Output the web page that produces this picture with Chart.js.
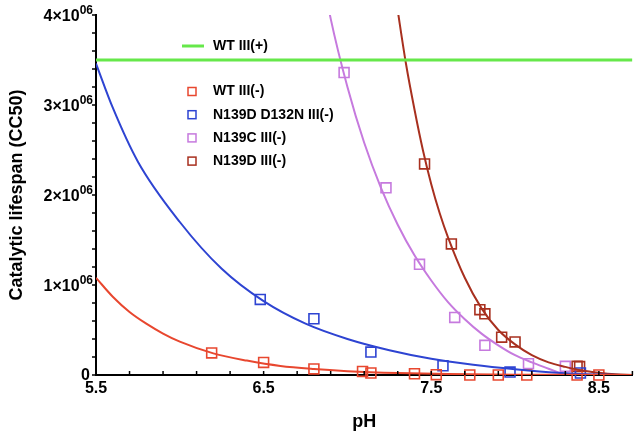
<!DOCTYPE html>
<html>
<head>
<meta charset="utf-8">
<title>Catalytic lifespan vs pH</title>
<script src="https://cdn.jsdelivr.net/npm/chart.js@4.4.1/dist/chart.umd.min.js"></script>
<style>
  html, body { margin: 0; padding: 0; background: #fff; }
  #wrap { width: 641px; height: 439px; }
</style>
</head>
<body>
<div id="wrap"><canvas id="lifespanChart" width="641" height="439"></canvas></div>
<script>
// measured points (pH, CC50)
const wtMinusPH  = [6.19, 6.50, 6.80, 7.09, 7.14, 7.40, 7.53, 7.73, 7.90, 8.07, 8.37, 8.50];
const wtMinusVal = [0.245e6, 0.14e6, 0.067e6, 0.04e6, 0.022e6, 0.014e6, 0.004e6, 0, 0, 0, 0, 0];

const dblMutPH  = [6.48, 6.80, 7.14, 7.57, 7.97, 8.39];
const dblMutVal = [0.84e6, 0.625e6, 0.255e6, 0.103e6, 0.033e6, 0.022e6];

const n139cPH  = [6.98, 7.23, 7.43, 7.64, 7.82, 8.08, 8.30];
const n139cVal = [3.36e6, 2.08e6, 1.23e6, 0.64e6, 0.33e6, 0.126e6, 0.096e6];

const n139dPH  = [7.46, 7.62, 7.79, 7.82, 7.92, 8.00, 8.37, 8.385];
const n139dVal = [2.345e6, 1.456e6, 0.726e6, 0.68e6, 0.42e6, 0.367e6, 0.096e6, 0.094e6];

// fitted curves
const wtFitPH  = [5.5, 5.6, 5.7, 5.8, 5.9, 6.0, 6.2, 6.4, 6.6, 6.8, 7.0, 7.3, 7.6, 8.0, 8.4, 8.7];
const wtFitVal = [1.08e6, 0.87e6, 0.70e6, 0.57e6, 0.46e6, 0.37e6, 0.24e6, 0.16e6, 0.10e6, 0.066e6, 0.043e6, 0.022e6, 0.011e6, 0.004e6, 0.002e6, 0];

const dblFitPH  = [5.5, 5.6, 5.75, 6.0, 6.25, 6.5, 6.75, 7.0, 7.25, 7.5, 7.75, 8.0, 8.25, 8.5, 8.7];
const dblFitVal = [3.46e6, 2.97e6, 2.37e6, 1.70e6, 1.18e6, 0.82e6, 0.57e6, 0.40e6, 0.275e6, 0.18e6, 0.115e6, 0.065e6, 0.025e6, 0.005e6, 0];

const n139cFitPH  = [6.85, 6.9, 7.0, 7.1, 7.2, 7.3, 7.4, 7.5, 7.6, 7.7, 7.8, 7.9, 8.0, 8.1, 8.2, 8.3];
const n139cFitVal = [4.45e6, 3.96e6, 3.2e6, 2.58e6, 2.08e6, 1.67e6, 1.33e6, 1.05e6, 0.81e6, 0.62e6, 0.46e6, 0.33e6, 0.22e6, 0.14e6, 0.07e6, 0];

const n139dFitPH  = [7.28, 7.3, 7.35, 7.4, 7.45, 7.5, 7.55, 7.6, 7.7, 7.8, 7.9, 8.0, 8.1, 8.2, 8.3, 8.4, 8.5, 8.6, 8.7];
const n139dFitVal = [4.3e6, 4.05e6, 3.45e6, 2.95e6, 2.5e6, 2.12e6, 1.8e6, 1.53e6, 1.08e6, 0.74e6, 0.5e6, 0.34e6, 0.22e6, 0.14e6, 0.09e6, 0.05e6, 0.025e6, 0.008e6, 0];

const wtPlusPH  = [5.5, 8.7];
const wtPlusVal = [3.5e6, 3.5e6];

const xTickLabels = [5.5, 6.5, 7.5, 8.5];
const yTickValues = [0, 1e6, 2e6, 3e6, 4e6];
const yTickLabels = ['0', '1×10^06', '2×10^06', '3×10^06', '4×10^06'];

const FONT = "'Liberation Sans', Arial, Helvetica, sans-serif";
const RED = '#e8472f', BLUE = '#2e44d2', LILAC = '#c67ade', BROWN = '#a8301f', GREEN = '#66e84a';

function pts(xs, ys) {
    return xs.map((x, i) => ({ x: x, y: ys[i] }));
}

function fitLine(xs, ys, color) {
    return {
        data: pts(xs, ys),
        borderColor: color,
        borderWidth: 2,
        pointRadius: 0,
        cubicInterpolationMode: 'monotone',
        fill: false
    };
}

function markers(label, xs, ys, color) {
    return {
        label: label,
        data: pts(xs, ys),
        showLine: false,
        pointStyle: 'rect',
        pointRadius: 7,
        pointBorderWidth: 1.6,
        pointBorderColor: color,
        pointBackgroundColor: 'rgba(0,0,0,0)',
        borderColor: color,
        clip: false,
        legendBox: true
    };
}

// tick marks, y labels with exponent, and the legend
const decor = {
    id: 'decor',
    afterDraw(chart) {
        const { ctx, scales: { x, y } } = chart;
        ctx.save();
        ctx.strokeStyle = '#000';
        ctx.lineWidth = 1.5;
        for (let k = 0; k <= 20; k++) {
            const py = y.getPixelForValue(k * 2e5);
            ctx.beginPath(); ctx.moveTo(x.left - 4, py); ctx.lineTo(x.left, py); ctx.stroke();
        }
        for (let k = 0; k <= 16; k++) {
            const px = x.getPixelForValue(5.5 + k * 0.2);
            ctx.beginPath(); ctx.moveTo(px, y.bottom); ctx.lineTo(px, y.bottom - 4); ctx.stroke();
        }

        ctx.fillStyle = '#000';
        ctx.textBaseline = 'middle';
        yTickValues.forEach((v, i) => {
            const py = y.getPixelForValue(v);
            const parts = yTickLabels[i].split('^');
            if (parts.length === 1) {
                ctx.font = 'bold 16px ' + FONT;
                ctx.textAlign = 'right';
                ctx.fillText(parts[0], 90, py + 1);
                return;
            }
            ctx.font = 'bold 12px ' + FONT;
            const supW = ctx.measureText(parts[1]).width;
            ctx.textAlign = 'left';
            ctx.fillText(parts[1], 93 - supW, py - 4);
            ctx.font = 'bold 16px ' + FONT;
            ctx.textAlign = 'right';
            ctx.fillText(parts[0], 93 - supW, py + 2);
        });

        // legend
        ctx.textAlign = 'left';
        ctx.font = 'bold 14px ' + FONT;
        ctx.strokeStyle = GREEN;
        ctx.lineWidth = 3;
        ctx.beginPath(); ctx.moveTo(182, 46); ctx.lineTo(204, 46); ctx.stroke();
        ctx.fillText('WT III(+)', 213, 46);
        const boxed = chart.data.datasets.filter(d => d.legendBox);
        boxed.forEach((d, i) => {
            const cy = 91.5 + i * 23.2;
            ctx.strokeStyle = d.pointBorderColor;
            ctx.lineWidth = 1.5;
            ctx.strokeRect(188, cy - 4, 8, 8);
            ctx.fillStyle = '#000';
            ctx.fillText(d.label, 213, cy);
        });
        ctx.restore();
    }
};

new Chart(document.getElementById('lifespanChart'), {
    type: 'line',
    data: {
        datasets: [
            { label: 'WT III(+)', data: pts(wtPlusPH, wtPlusVal), borderColor: GREEN, borderWidth: 3, pointRadius: 0 },
            fitLine(wtFitPH, wtFitVal, RED),
            fitLine(dblFitPH, dblFitVal, BLUE),
            fitLine(n139cFitPH, n139cFitVal, LILAC),
            fitLine(n139dFitPH, n139dFitVal, BROWN),
            markers('WT III(-)', wtMinusPH, wtMinusVal, RED),
            markers('N139D D132N III(-)', dblMutPH, dblMutVal, BLUE),
            markers('N139C III(-)', n139cPH, n139cVal, LILAC),
            markers('N139D III(-)', n139dPH, n139dVal, BROWN)
        ]
    },
    options: {
        responsive: false,
        animation: false,
        layout: { padding: { top: 15, right: 8, left: 0, bottom: 0 } },
        plugins: { legend: { display: false }, tooltip: { enabled: false } },
        scales: {
            x: {
                type: 'linear',
                min: 5.5,
                max: 8.7,
                afterFit: s => { s.height = 64; },
                afterBuildTicks: s => { s.ticks = xTickLabels.map(v => ({ value: v })); },
                grid: { display: false, drawTicks: false },
                border: { display: true, color: '#000', width: 2 },
                ticks: {
                    autoSkip: false,
                    maxRotation: 0,
                    padding: 4,
                    color: '#000',
                    font: { family: FONT, size: 16, weight: 'bold' },
                    callback: v => Number(v).toFixed(1)
                },
                title: {
                    display: true,
                    text: 'pH',
                    color: '#000',
                    font: { family: FONT, size: 18, weight: 'bold' },
                    padding: { top: 0, bottom: 6 }
                }
            },
            y: {
                type: 'linear',
                min: 0,
                max: 4e6,
                afterFit: s => { s.width = 96; },
                grid: { display: false, drawTicks: false },
                border: { display: true, color: '#000', width: 2 },
                ticks: { display: false },
                title: {
                    display: true,
                    text: 'Catalytic lifespan (CC50)',
                    color: '#000',
                    font: { family: FONT, size: 18, weight: 'bold' },
                    padding: { top: 6, bottom: 0 }
                }
            }
        }
    },
    plugins: [decor]
});
</script>
</body>
</html>
